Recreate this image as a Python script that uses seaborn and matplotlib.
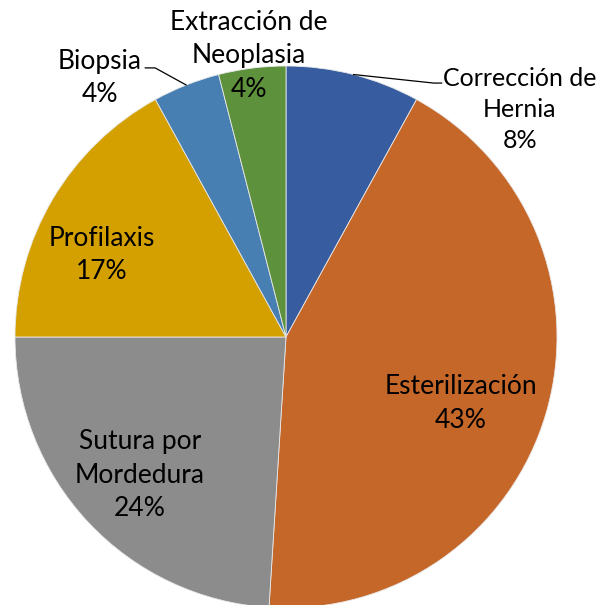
import numpy as np
import matplotlib
matplotlib.use("Agg")
import matplotlib.pyplot as plt
import seaborn as sns

# datos del grafico
categorias = ["Corrección de\nHernia", "Esterilización", "Sutura por\nMordedura",
              "Profilaxis", "Biopsia", "Extracción de\nNeoplasia"]
porcentajes = [8, 43, 24, 17, 4, 4]
colores = ["#375DA0", "#C6672A", "#8C8C8C", "#D4A000", "#487FB2", "#5E913C"]

# posicion de cada etiqueta (unidades del radio)
pos_etiquetas = [(0.862, 0.84), (0.646, -0.245), (-0.539, -0.51),
                 (-0.679, 0.303), (-0.686, 0.955), (-0.137, 1.038)]
tam_etiquetas = [18, 19, 19, 19, 19, 19]
# codos de las lineas guia (solo Correccion y Biopsia)
guias = {0: [(0.545, 0.937), (0.575, 0.937)], 4: [(-0.483, 0.993), (-0.52, 0.993)]}

sns.set_theme(style="white")
plt.rcParams["font.family"] = ["Lato", "DejaVu Sans"]

fig = plt.figure(figsize=(6.0, 6.05), dpi=100)
ax = fig.add_axes([0, 0, 1, 1])

wedges, _ = ax.pie(porcentajes, colors=sns.color_palette(colores), startangle=90,
                   counterclock=False,
                   wedgeprops=dict(edgecolor="#E8E8E8", linewidth=0.6))

for i, w in enumerate(wedges):
    texto = f"{categorias[i]}\n{porcentajes[i]}%"
    x, y = pos_etiquetas[i]
    ax.text(x, y, texto, ha="center", va="center", fontsize=tam_etiquetas[i],
            color="black", linespacing=1.42)
    if i in guias:
        ang = np.deg2rad((w.theta1 + w.theta2) / 2)
        pts = [(np.cos(ang), np.sin(ang))] + guias[i]
        xs, ys = zip(*pts)
        ax.plot(xs, ys, color="black", linewidth=0.9)

ax.set_aspect("auto")
ax.set_xlim(-286 / 271, 314 / 271)
ax.set_ylim(-268 / 271, 337 / 271)
ax.axis("off")

fig.savefig("out.png", dpi=100, facecolor="white")
